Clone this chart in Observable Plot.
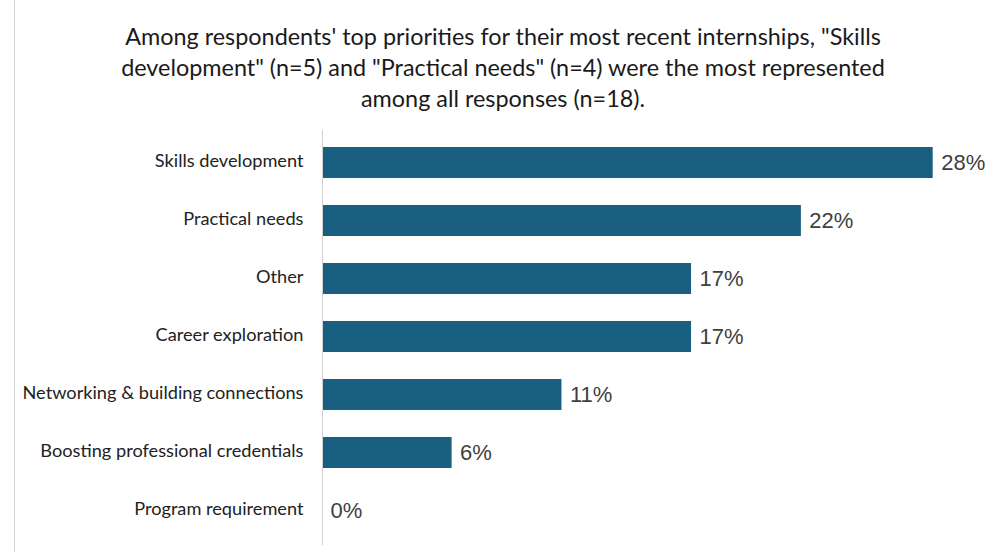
<!DOCTYPE html>
<html>
<head>
<meta charset="utf-8">
<script src="https://cdn.jsdelivr.net/npm/d3@7"></script>
<script src="https://cdn.jsdelivr.net/npm/@observablehq/plot@0.6"></script>
<style>
  html, body { margin: 0; padding: 0; background: #fff; }
  body { width: 1000px; height: 552px; position: relative; overflow: hidden; }
  #frame { position: absolute; left: 14px; top: 0; width: 1px; height: 552px; background: #d4d4d4; z-index: 5; }
  #title {
    position: absolute; left: 0; top: 21px; width: 1006px; text-align: center;
    font-family: Lato, "Open Sans", sans-serif; font-size: 23.4px; line-height: 31px; color: #1a1a1a;
  }
  #chart { position: absolute; left: 0; top: 120px; }
</style>
</head>
<body>
<div id="title">Among respondents' top priorities for their most recent internships, "Skills<br>development" (n=5) and "Practical needs" (n=4) were the most represented<br>among all responses (n=18).</div>
<div id="chart"></div>
<div id="frame"></div>
<script>
const categories = ["Skills development", "Practical needs", "Other", "Career exploration", "Networking & building connections", "Boosting professional credentials", "Program requirement"];
const percents = [27.8, 21.8, 16.8, 16.8, 10.9, 5.9, 0];

const data = categories.map((c, i) => ({category: c, value: percents[i]}));

const chart = Plot.plot({
  width: 1000,
  height: 432,
  marginLeft: 322,
  marginRight: 19,
  marginTop: 13,
  marginBottom: 12,
  style: {fontFamily: "Lato, 'Open Sans', sans-serif", background: "transparent"},
  x: {domain: [0, 30], axis: null},
  y: {domain: categories, paddingInner: 0.467, paddingOuter: 0.2335, label: null, tickSize: 0, tickPadding: 19},
  marks: [
    Plot.barX(data, {x: "value", y: "category", fill: "#185f80"}),
    Plot.ruleX([0], {stroke: "#d0d0d0", strokeWidth: 1, insetTop: -3, insetBottom: -5}),
    Plot.axisY({tickSize: 0, tickPadding: 19, fontSize: 18.2, fill: "#222", label: null, dy: -2}),
    Plot.text(data, {x: "value", y: "category", text: d => Math.round(d.value) + "%", dx: 8, textAnchor: "start", fontSize: 22, fill: "#404040", fontFamily: "'Liberation Sans', Arial, sans-serif"})
  ]
});
document.getElementById("chart").appendChild(chart);
</script>
</body>
</html>
